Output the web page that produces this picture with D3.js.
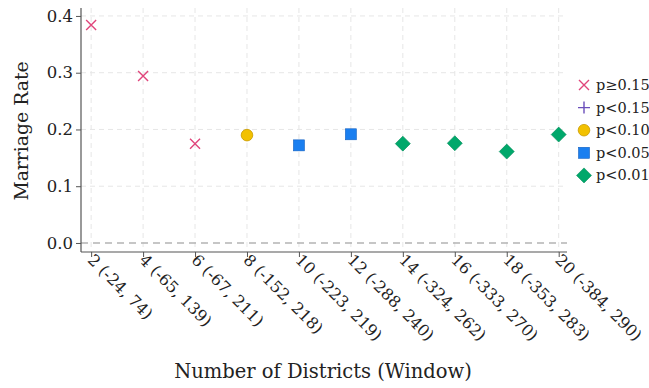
<!DOCTYPE html>
<html><head><meta charset="utf-8">
<script src="https://cdn.jsdelivr.net/npm/d3@7"></script>
<style>body{margin:0;background:#fff}svg{display:block}</style>
</head><body>
<script>
const districts = [2,4,6,8,10,12,14,16,18,20];
const windows = ["(-24, 74)","(-65, 139)","(-67, 211)","(-152, 218)","(-223, 219)","(-288, 240)","(-324, 262)","(-333, 270)","(-353, 283)","(-384, 290)"];
const rates = [0.384,0.294,0.175,0.190,0.172,0.1915,0.175,0.1757,0.161,0.191];
const groups = ["p≥0.15","p≥0.15","p≥0.15","p<0.10","p<0.05","p<0.05","p<0.01","p<0.01","p<0.01","p<0.01"];
const legendLabels = ["p≥0.15","p<0.15","p<0.10","p<0.05","p<0.01"];
const yTicks = [0,0.1,0.2,0.3,0.4];

const W=649,H=388;
const font="'DejaVu Serif', serif";
const svg=d3.select("body").append("svg").attr("width",W).attr("height",H);
const x=d3.scaleLinear().domain([1.61,20.32]).range([81,567]);
const y=d3.scaleLinear().domain([-0.0159,0.414]).range([252,8]);

const style={
 "p≥0.15":{shape:"x",color:"#e0457b"},
 "p<0.15":{shape:"plus",color:"#6b4fbb"},
 "p<0.10":{shape:"circle",color:"#f2c100",stroke:"#c99a00"},
 "p<0.05":{shape:"square",color:"#1a7ff0",stroke:"#1260c0"},
 "p<0.01":{shape:"diamond",color:"#00a86b",stroke:"#008a58"}
};

const g=svg.append("g");
g.selectAll(".vg").data(districts).join("line")
 .attr("x1",d=>x(d)).attr("x2",d=>x(d)).attr("y1",8).attr("y2",252)
 .attr("stroke","#e6e6e6").attr("stroke-width",1).attr("stroke-dasharray","5,4");
g.selectAll(".hg").data(yTicks.filter(d=>d>0)).join("line")
 .attr("x1",81).attr("x2",567).attr("y1",d=>y(d)).attr("y2",d=>y(d))
 .attr("stroke","#e6e6e6").attr("stroke-width",1).attr("stroke-dasharray","5,4");
svg.append("line").attr("x1",81).attr("x2",567).attr("y1",y(0)).attr("y2",y(0))
 .attr("stroke","#b4b4b4").attr("stroke-width",1.5).attr("stroke-dasharray","7,5");

const yAxis=svg.append("g").attr("transform","translate(81,0)")
 .call(d3.axisLeft(y).tickValues(yTicks).tickFormat(d3.format(".1f")).tickSize(5).tickPadding(3));
const xAxis=svg.append("g").attr("transform","translate(0,252)")
 .call(d3.axisBottom(x).tickValues(districts).tickFormat((d,i)=>d+" "+windows[i]).tickSize(5));
[yAxis,xAxis].forEach(a=>{
 a.select(".domain").attr("stroke","#555").attr("stroke-width",1.2);
 a.selectAll(".tick line").attr("stroke","#555");
 a.selectAll("text").attr("font-family",font).attr("fill","#222");
});
yAxis.select(".domain").attr("d","M0,8V252");
xAxis.select(".domain").attr("d","M81,0H567");
yAxis.selectAll("text").attr("font-size",16.5);
xAxis.selectAll("text").attr("font-size",16)
 .attr("text-anchor","start").attr("dy",null).attr("y",0)
 .attr("transform","translate(-5,9) rotate(45)");

svg.append("text").attr("x",323).attr("y",378).attr("text-anchor","middle")
 .attr("font-family",font).attr("font-size",19.5).attr("fill","#222").text("Number of Districts (Window)");
svg.append("text").attr("transform","translate(28,131) rotate(-90)").attr("text-anchor","middle")
 .attr("font-family",font).attr("font-size",18.8).attr("fill","#222").text("Marriage Rate");

function marker(sel,st){
 if(st.shape==="x"){
  sel.append("path").attr("d","M-5,-5L5,5M-5,5L5,-5").attr("stroke",st.color).attr("stroke-width",1.4).attr("fill","none");
 } else if(st.shape==="plus"){
  sel.append("path").attr("d","M-6,0H6M0,-6V6").attr("stroke",st.color).attr("stroke-width",1.4).attr("fill","none");
 } else if(st.shape==="circle"){
  sel.append("circle").attr("r",5.8).attr("fill",st.color).attr("stroke",st.stroke).attr("stroke-width",0.8);
 } else if(st.shape==="square"){
  sel.append("rect").attr("x",-5.5).attr("y",-5.5).attr("width",11).attr("height",11).attr("fill",st.color).attr("stroke",st.stroke).attr("stroke-width",0.6);
 } else {
  sel.append("path").attr("d","M0,-7.5L7.5,0L0,7.5L-7.5,0Z").attr("fill",st.color).attr("stroke",st.stroke).attr("stroke-width",0.6);
 }
}
districts.forEach((d,i)=>{
 const m=svg.append("g").attr("transform",`translate(${x(d)},${y(rates[i])})`);
 marker(m,style[groups[i]]);
});

legendLabels.forEach((l,i)=>{
 const yy=85+i*22.6;
 const m=svg.append("g").attr("transform",`translate(584,${yy})`);
 marker(m,style[l]);
 svg.append("text").attr("x",596).attr("y",yy+5).attr("font-family",font).attr("font-size",14.5)
  .attr("fill","#222").text(l);
});
</script>
</body></html>
